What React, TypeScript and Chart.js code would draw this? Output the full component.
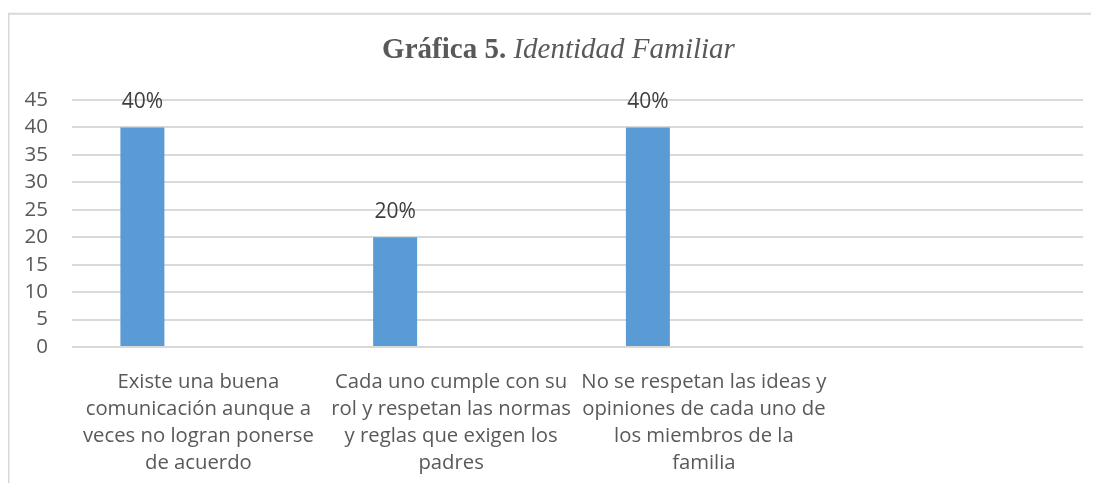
import React, { useEffect, useRef } from "react";
import { Chart, registerables } from "chart.js";

Chart.register(...registerables);

const categories: (string | string[])[] = [
  ["Existe una buena", "comunicación aunque a", "veces no logran ponerse", "de acuerdo"],
  ["Cada uno cumple con su", "rol y respetan las normas", "y reglas que exigen los", "padres"],
  ["No se respetan las ideas y", "opiniones de cada uno de", "los miembros de la", "familia"],
  "",
];
const percentValues: (number | null)[] = [40, 20, 40, null];
const emptySeries: (number | null)[] = [null, null, null, null];
const yMin = 0;
const yMax = 45;
const yStep = 5;
const titleBold = "Gráfica 5. ";
const titleItalic = "Identidad Familiar";

export default function App() {
  const ref = useRef<HTMLCanvasElement>(null);

  useEffect(() => {
    if (!ref.current) return;

    const framePlugin = {
      id: "frame",
      beforeDraw(chart: any) {
        const { ctx, width, height } = chart;
        ctx.save();
        ctx.fillStyle = "#ffffff";
        ctx.fillRect(0, 0, width, height);
        ctx.strokeStyle = "#d9d9d9";
        ctx.lineWidth = 2;
        ctx.beginPath();
        ctx.moveTo(0.5, height);
        ctx.lineTo(0.5, 5.7);
        ctx.lineTo(width, 5.7);
        ctx.stroke();
        ctx.restore();
      },
    };

    const titlePlugin = {
      id: "mixedTitle",
      afterDraw(chart: any) {
        const { ctx } = chart;
        ctx.save();
        ctx.fillStyle = "#595959";
        ctx.textBaseline = "alphabetic";
        const boldFont = 'bold 29px "Liberation Serif", "Times New Roman", serif';
        const italicFont = 'italic 29px "Liberation Serif", "Times New Roman", serif';
        ctx.font = boldFont;
        const w1 = ctx.measureText(titleBold).width;
        ctx.font = italicFont;
        const w2 = ctx.measureText(titleItalic).width;
        const cx = 550.5;
        const start = cx - (w1 + w2) / 2;
        ctx.textAlign = "left";
        ctx.font = boldFont;
        ctx.fillText(titleBold, start, 50);
        ctx.font = italicFont;
        ctx.fillText(titleItalic, start + w1, 50);
        ctx.restore();
      },
    };

    const labelPlugin = {
      id: "barLabels",
      afterDatasetsDraw(chart: any) {
        const { ctx } = chart;
        const meta = chart.getDatasetMeta(0);
        ctx.save();
        ctx.fillStyle = "#404040";
        ctx.font = '21px "Open Sans", sans-serif';
        ctx.textAlign = "center";
        ctx.textBaseline = "middle";
        meta.data.forEach((bar: any, i: number) => {
          const v = percentValues[i];
          if (v === null || v === undefined) return;
          ctx.fillText(v + "%", bar.x, bar.y - 25);
        });
        ctx.restore();
      },
    };

    const chart = new Chart(ref.current, {
      type: "bar",
      data: {
        labels: categories,
        datasets: [
          {
            label: "Serie 1",
            data: percentValues,
            backgroundColor: "#5b9bd5",
            borderWidth: 0,
            categoryPercentage: 0.886,
            barPercentage: 0.393,
          },
          {
            label: "Serie 2",
            data: emptySeries,
            backgroundColor: "#ed7d31",
            borderWidth: 0,
            categoryPercentage: 0.886,
            barPercentage: 0.393,
          },
        ],
      },
      options: {
        responsive: false,
        animation: false,
        layout: { padding: { top: 92, right: 16, left: 0, bottom: 0 } },
        plugins: {
          legend: { display: false },
          title: { display: false },
          tooltip: { enabled: false },
        },
        scales: {
          x: {
            grid: { display: false },
            border: { display: false },
            ticks: {
              autoSkip: false,
              maxRotation: 0,
              minRotation: 0,
              color: "#595959",
              padding: 14,
              font: { family: '"Open Sans", sans-serif', size: 20.3, lineHeight: 27 / 20.3 },
            },
            afterFit: (s: any) => {
              s.height = 136;
            },
          },
          y: {
            min: yMin,
            max: yMax,
            ticks: {
              stepSize: yStep,
              autoSkip: false,
              color: "#595959",
              padding: 24,
              font: { family: '"Open Sans", sans-serif', size: 20.5, lineHeight: 1 },
            },
            grid: { color: "#d9d9d9", lineWidth: 2, drawTicks: false },
            border: { display: false },
            afterFit: (s: any) => {
              s.width = 64;
            },
          },
        },
      },
      plugins: [framePlugin, titlePlugin, labelPlugin],
    });

    return () => chart.destroy();
  }, []);

  return (
    <div style={{ width: 1091, height: 475 }}>
      <canvas ref={ref} width={1091} height={475} style={{ display: "block" }} />
    </div>
  );
}
